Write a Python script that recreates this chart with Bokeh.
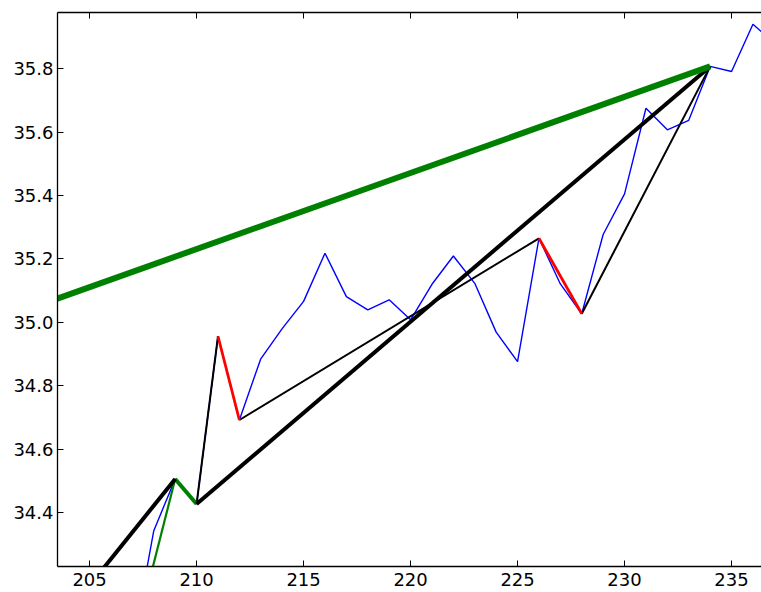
from bokeh.plotting import figure
from bokeh.models import LinearAxis, FixedTicker, Range1d, PrintfTickFormatter
from bokeh.embed import file_html
from bokeh.resources import INLINE

# ---- data ----
days = list(range(207, 238))
close = [33.975, 34.343, 34.506, 34.427, 34.956, 34.692, 34.885, 34.98, 35.066,
         35.218, 35.081, 35.039, 35.071, 35.008, 35.12, 35.209, 35.123, 34.969,
         34.876, 35.265, 35.121, 35.027, 35.277, 35.405, 35.675, 35.607, 35.637,
         35.807, 35.791, 35.94, 35.88]

# zig-zag legs (thin black) and down legs (red)
zig_x = [[210, 211], [212, 226], [228, 234]]
red_x = [[211, 212], [226, 228]]
# small green legs
green_thin_x = [207, 209]
green_thick_x = [209, 210]
# thick black trend lines
trend1_x = [205, 209]
trend1_y = [34.17, 34.506]
trend2_x = [210, 234]
# long green trend
gtrend_x = [203, 234]
gtrend_y = [35.063, 35.807]

x_ticks = [205, 210, 215, 220, 225, 230, 235]
y_ticks = [34.4, 34.6, 34.8, 35.0, 35.2, 35.4, 35.6, 35.8]

val = dict(zip(days, close))

p = figure(width=761, height=592, output_backend="svg", toolbar_location=None,
           x_range=Range1d(203.5, 236.4), y_range=Range1d(34.23, 35.977),
           x_axis_location=None, y_axis_location=None,
           min_border_left=57, min_border_top=12, min_border_right=0,
           min_border_bottom=26)
p.outline_line_color = None
p.xgrid.visible = False
p.ygrid.visible = False
p.background_fill_color = "white"
p.border_fill_color = "white"

FONT = "DejaVu Sans"

def style(ax):
    ax.major_tick_in = 6
    ax.major_tick_out = 0
    ax.minor_tick_in = 0
    ax.minor_tick_out = 0
    ax.axis_line_color = "black"
    ax.axis_line_width = 1.3
    ax.major_tick_line_color = "black"
    ax.major_label_text_font = FONT
    ax.major_label_text_color = "black"
    ax.major_label_text_font_size = "18px"

xb = LinearAxis(ticker=FixedTicker(ticks=x_ticks))
style(xb)
xb.major_label_standoff = 6
p.add_layout(xb, "below")

xt = LinearAxis(ticker=FixedTicker(ticks=x_ticks))
style(xt)
xt.major_label_overrides = {t: "" for t in x_ticks}
xt.major_label_standoff = 0
p.add_layout(xt, "above")

yl = LinearAxis(ticker=FixedTicker(ticks=y_ticks),
                formatter=PrintfTickFormatter(format="%.1f"))
style(yl)
yl.major_label_standoff = 4
p.add_layout(yl, "left")

# blue price line
p.line(days, close, line_color="#0000ff", line_width=1.4)

# thin black zigzag legs
for xs in zig_x:
    p.line(xs, [val[x] for x in xs], line_color="black", line_width=2)
# red down legs
for xs in red_x:
    p.line(xs, [val[x] for x in xs], line_color="#ff0000", line_width=2.8)
# green small legs
p.line(green_thin_x, [val[x] for x in green_thin_x], line_color="#008000", line_width=2.2)
p.line(green_thick_x, [val[x] for x in green_thick_x], line_color="#008000", line_width=4)
# thick black trend lines
p.line(trend1_x, trend1_y, line_color="black", line_width=4)
p.line(trend2_x, [val[x] for x in trend2_x], line_color="black", line_width=4)
# long green trend
p.line(gtrend_x, gtrend_y, line_color="#008000", line_width=6)

open("out.html", "w").write(file_html(p, INLINE))
